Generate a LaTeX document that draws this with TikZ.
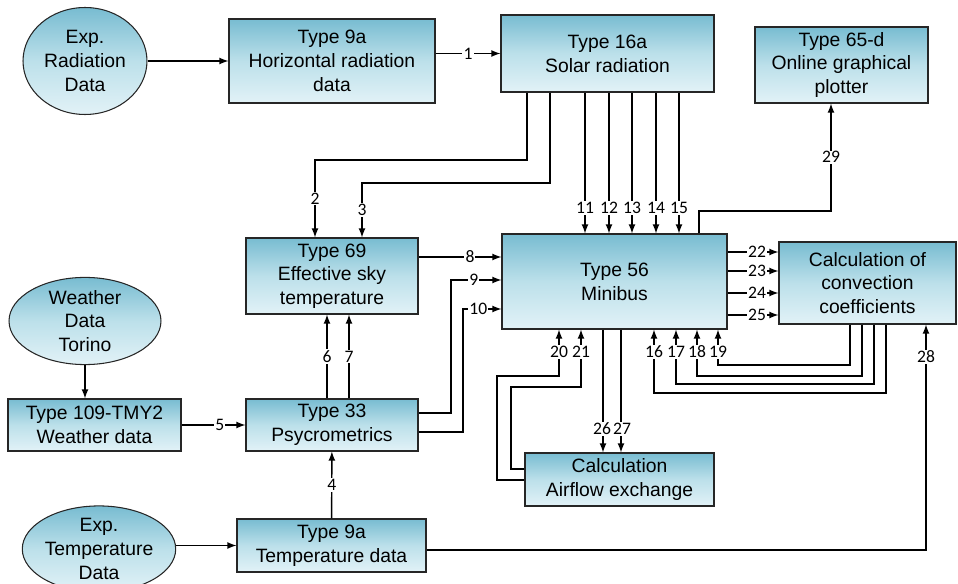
\documentclass[tikz,border=0pt]{standalone}
\usepackage{fontspec}
\setmainfont{Liberation Sans}
\newfontfamily\numfont{Carlito}
\usetikzlibrary{shapes, arrows}

\definecolor{boxtop}{RGB}{120,188,209}
\definecolor{boxmid}{RGB}{188,224,234}
\definecolor{boxbot}{RGB}{226,242,247}

\begin{document}
\begin{tikzpicture}[x=0.02cm, y=-0.02cm,
		block/.style={rectangle, draw=black!85, semithick, top color=boxtop, bottom color=boxbot, middle color=boxmid, align=center, inner sep=2pt, font=\fontsize{11}{13.5}\selectfont},
		data/.style={ellipse, draw=black!85, semithick, top color=boxtop, bottom color=boxbot, middle color=boxmid, align=center, inner sep=0pt, font=\fontsize{11}{13.5}\selectfont},
		arrow/.style={-latex, thick},
		num/.style={fill=white, inner sep=0.6pt, font=\numfont\fontsize{10}{11}\selectfont}
		]
		\useasboundingbox (0,0) rectangle (958,584);
		\clip (0,0) rectangle (958,584);
		
		% sources and processing blocks
		\node[data, minimum width=2.48cm, minimum height=2.14cm] (radexp) at (85,61) {Exp.\\Radiation\\Data};
		\node[block, minimum width=4.12cm, minimum height=1.68cm] (radfile) at (332,61) {Type 9a\\Horizontal radiation\\data};
		\node[block, minimum width=4.26cm, minimum height=1.54cm] (solar) at (607.5,53.5) {Type 16a\\Solar radiation};
		\node[block, minimum width=3.46cm, minimum height=1.52cm] (plotter) at (841.5,65) {Type 65-d\\Online graphical\\plotter};
		\node[block, minimum width=3.44cm, minimum height=1.52cm] (skytemp) at (332,276) {Type 69\\Effective sky\\temperature};
		\node[block, minimum width=4.5cm, minimum height=1.9cm] (minibus) at (614.5,281.5) {Type 56\\Minibus};
		\node[block, minimum width=3.54cm, minimum height=1.64cm] (conv) at (867.5,283) {Calculation of\\convection\\coefficients};
		\node[data, minimum width=3.04cm, minimum height=1.68cm] (torino) at (85,321) {Weather\\Data\\Torino};
		\node[block, minimum width=3.46cm, minimum height=1.04cm] (tmy) at (94.5,425) {Type 109-TMY2\\Weather data};
		\node[block, minimum width=3.44cm, minimum height=1.04cm] (psy) at (332,425) {Type 33\\Psycrometrics};
		\node[data, minimum width=2.96cm, minimum height=1.52cm] (tempexp) at (99,549) {Exp.\\Temperature\\Data};
		\node[block, minimum width=3.78cm, minimum height=1.06cm] (tempfile) at (331.5,545.5) {Type 9a\\Temperature data};
		\node[block, minimum width=3.78cm, minimum height=1.06cm] (airflow) at (619.5,479.5) {Calculation\\Airflow exchange};
		
		% inputs
		\draw[arrow] (radexp) -- (radfile);
		\draw[arrow] (radfile.east |- solar.west) -- node[num]{1} (solar.west);
		\draw[arrow] (torino.south) -- (torino.south |- tmy.north);
		\draw[arrow] (tmy) -- node[num, pos=0.6]{5} (psy);
		\draw[arrow] (tempexp.east |- tempfile.west) -- (tempfile.west);
		\draw[arrow] (tempfile) -- node[num]{4} (psy);
		
		% solar radiation outputs
		\draw[arrow] (527,0 |- solar.south) |- (315,160) -- node[num]{2} (315,0 |- skytemp.north);
		\draw[arrow] (550,0 |- solar.south) |- (362,183) -- node[num]{3} (362,0 |- skytemp.north);
		\foreach \x/\n in {585/11, 609/12, 632/13, 656/14, 679/15}
			\draw[arrow] (\x,0 |- solar.south) -- node[num, pos=0.82]{\n} (\x,0 |- minibus.north);
		
		% sky temperature and psycrometrics
		\draw[arrow] (327,0 |- psy.north) -- node[num]{6} (327,0 |- skytemp.south);
		\draw[arrow] (349,0 |- psy.north) -- node[num]{7} (349,0 |- skytemp.south);
		\draw[arrow] (skytemp.east |- 0,257) -- node[num, pos=0.62]{8} (minibus.west |- 0,257);
		\draw[arrow] (psy.east |- 0,413) -| (451,280) -- node[num, pos=0.45]{9} (minibus.west |- 0,280);
		\draw[arrow] (psy.east |- 0,432) -| (463,309) -- node[num, pos=0.4]{10} (minibus.west |- 0,309);
		
		% convection loop
		\foreach \y/\n in {252/22, 271/23, 293/24, 315/25}
			\draw[arrow] (minibus.east |- 0,\y) -- node[num, pos=0.58]{\n} (conv.west |- 0,\y);
		\foreach \xs/\y/\xe/\n in {850/365/718/19, 862/376/697/18, 874/384/676/17, 886/393/654/16}
			\draw[arrow] (\xs,0 |- conv.south) |- (\xe,\y) -- (\xe,0 |- minibus.south) node[num] at (\xe,352) {\n};
		\draw[arrow] (tempfile.east |- 0,550) -| (926,0 |- conv.south) node[num] at (926,357) {28};
		
		% airflow loop
		\draw[arrow] (airflow.west |- 0,480) -| (497,376) -| (559,0 |- minibus.south) node[num] at (559,352) {20};
		\draw[arrow] (airflow.west |- 0,469) -| (511,387) -| (581,0 |- minibus.south) node[num] at (581,352) {21};
		\draw[arrow] (603,0 |- minibus.south) -- (603,0 |- airflow.north) node[num] at (602,429) {26};
		\draw[arrow] (621,0 |- minibus.south) -- (621,0 |- airflow.north) node[num] at (622,429) {27};
		
		% plotter
		\draw[arrow] (699,0 |- minibus.north) |- (831,211) -- node[num]{29} (831,0 |- plotter.south);
		
	\end{tikzpicture}
\end{document}
